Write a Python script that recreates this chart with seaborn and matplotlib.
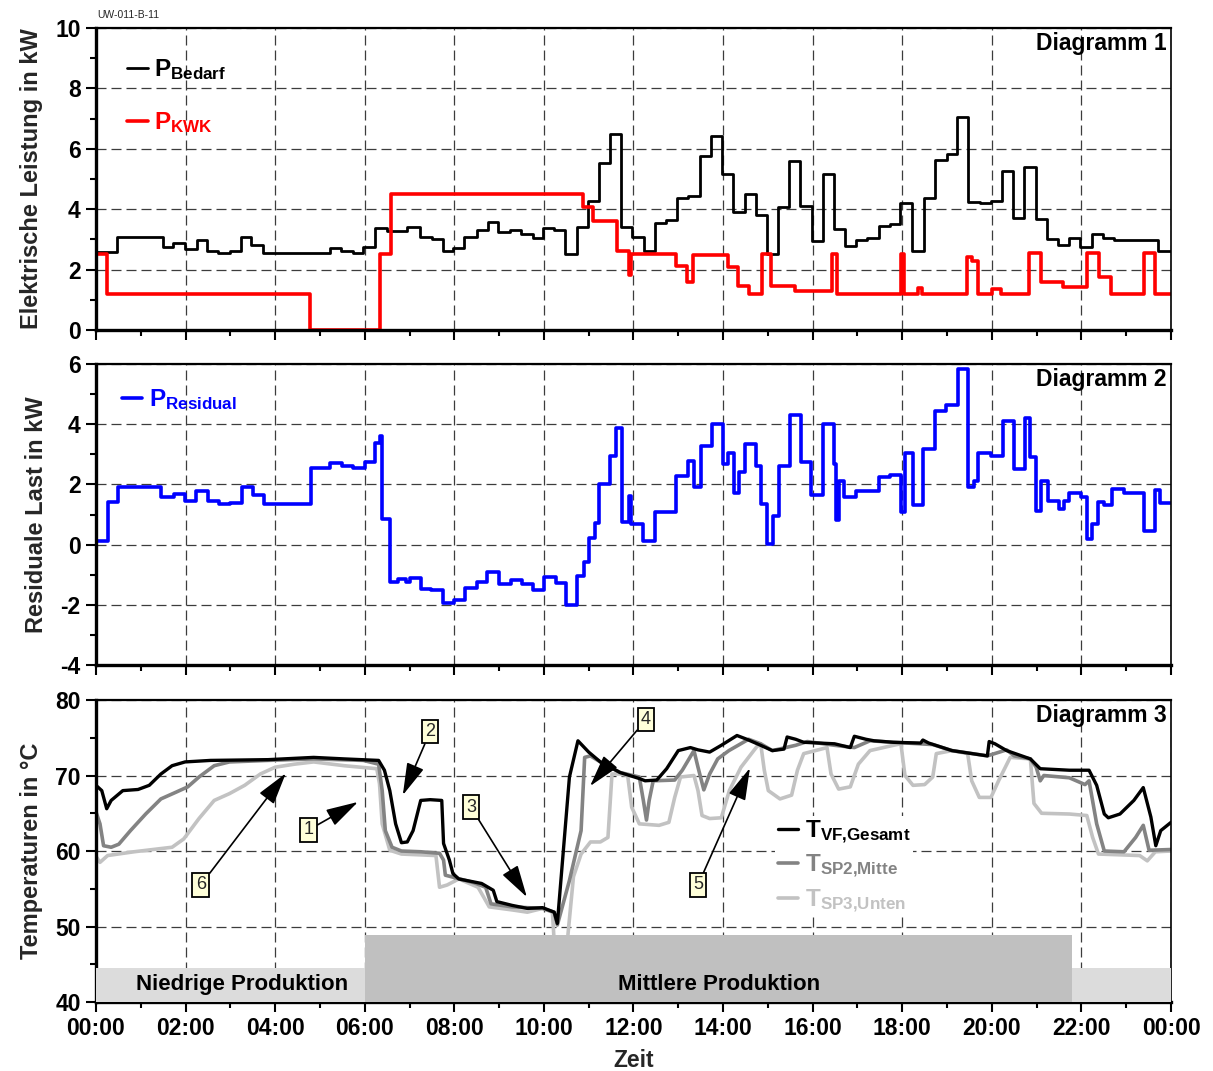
import numpy as np
import pandas as pd
import matplotlib
matplotlib.use("Agg")
import matplotlib.pyplot as plt
import seaborn as sns
from matplotlib.ticker import MultipleLocator

# ---------------- data ----------------
bedarf_t = [0, 0.47, 1.49, 1.72, 1.99, 2.25, 2.48, 2.73, 2.99, 3.23, 3.47, 3.74, 5.22, 5.48, 5.74, 5.97,
            6.23, 6.49, 6.94, 7.23, 7.5, 7.74, 7.97, 8.21, 8.5, 8.76, 8.98, 9.24, 9.48, 9.75, 9.98, 10.22,
            10.47, 10.73, 10.98, 11.23, 11.47, 11.72, 11.97, 12.23, 12.48, 12.72, 12.97, 13.21, 13.48, 13.73,
            13.97, 14.22, 14.49, 14.73, 14.98, 15.22, 15.47, 15.71, 15.98, 16.22, 16.47, 16.72, 16.96, 17.21,
            17.48, 17.72, 17.96, 18.21, 18.48, 18.73, 18.99, 19.22, 19.46, 19.73, 19.97, 20.22, 20.47, 20.71,
            20.98, 21.23, 21.47, 21.72, 21.96, 22.23, 22.48, 22.72, 23.71, 24]
bedarf_kw = [2.58, 3.08, 2.75, 2.88, 2.68, 2.98, 2.62, 2.55, 2.62, 3.07, 2.82, 2.55, 2.7, 2.62, 2.55, 2.75,
             3.37, 3.28, 3.4, 3.07, 3.0, 2.62, 2.7, 3.07, 3.31, 3.56, 3.23, 3.31, 3.19, 3.04, 3.39, 3.31,
             2.52, 3.42, 4.28, 5.54, 6.5, 3.42, 3.07, 2.63, 3.53, 3.64, 4.36, 4.42, 5.76, 6.42,
             5.16, 3.9, 4.5, 3.8, 2.52, 4.08, 5.6, 4.1, 2.96, 5.17, 3.33, 2.78, 2.99, 3.05,
             3.44, 3.52, 4.22, 2.6, 4.36, 5.63, 5.83, 7.04, 4.25, 4.2, 4.28, 5.28, 3.7, 5.41,
             3.66, 3.0, 2.8, 3.06, 2.74, 3.19, 3.06, 2.98, 2.6, 2.6]

kwk_t = [0, 0.01, 0.25, 4.78, 6.35, 6.58, 10.88, 11.1, 11.63, 11.9, 11.95, 12.95, 13.2, 13.32, 14.11,
         14.34, 14.58, 14.86, 15.08, 15.6, 16.43, 16.55, 17.97, 18.04, 18.35, 18.45, 19.44, 19.55, 19.69,
         20.0, 20.2, 20.83, 21.09, 21.58, 22.12, 22.39, 22.65, 23.39, 23.64, 24]
kwk_kw = [1.16, 2.52, 1.2, 0.0, 2.52, 4.5, 4.08, 3.62, 2.63, 1.82, 2.52, 2.12, 1.6, 2.49, 2.1,
          1.46, 1.19, 2.52, 1.45, 1.3, 2.52, 1.2, 2.52, 1.2, 1.4, 1.2, 2.43, 2.27, 1.2,
          1.37, 1.2, 2.55, 1.6, 1.42, 2.55, 1.77, 1.2, 2.55, 1.2, 1.2]

res_t = [0, 0.01, 0.27, 0.5, 1.45, 1.75, 1.98, 2.24, 2.5, 2.75, 2.99, 3.25, 3.5, 3.76, 4.79, 5.23, 5.5,
         5.74, 6.0, 6.24, 6.35, 6.38, 6.56, 6.75, 6.92, 7.01, 7.25, 7.48, 7.74, 7.99, 8.23, 8.5, 8.74, 9.0,
         9.27, 9.5, 9.76, 10.0, 10.26, 10.5, 10.75, 10.9, 11.0, 11.15, 11.24, 11.48, 11.62, 11.74, 11.89,
         11.94, 12.22, 12.48, 12.96, 13.22, 13.35, 13.5, 13.75, 14.0, 14.12, 14.24, 14.36, 14.49, 14.73,
         14.85, 14.99, 15.12, 15.25, 15.49, 15.73, 15.97, 16.23, 16.48, 16.52, 16.58, 16.71, 16.97, 17.47,
         17.73, 17.98, 18.06, 18.24, 18.46, 18.74, 18.98, 19.24, 19.46, 19.61, 19.7, 19.98, 20.24, 20.49,
         20.75, 20.86, 20.99, 21.1, 21.25, 21.51, 21.6, 21.73, 21.99, 22.12, 22.24, 22.38, 22.51, 22.68,
         22.95, 23.39, 23.65, 23.75, 24]
res_kw = [1.4, 0.13, 1.4, 1.92, 1.57, 1.68, 1.44, 1.77, 1.46, 1.35, 1.39, 1.9, 1.66, 1.35, 2.56, 2.7, 2.62,
          2.53, 2.76, 3.39, 3.61, 0.85, -1.25, -1.14, -1.25, -1.1, -1.47, -1.5, -1.94, -1.83, -1.44, -1.25,
          -0.92, -1.3, -1.17, -1.3, -1.5, -1.08, -1.28, -2.02, -1.04, -0.59, 0.22, 0.71, 2.0, 2.95, 3.89,
          0.74, 1.62, 0.68, 0.13, 1.07, 2.29, 2.78, 1.92, 3.28, 4.0, 2.67, 3.06, 1.73, 2.4, 3.34, 2.62,
          1.35, 0.02, 0.96, 2.62, 4.31, 2.73, 1.66, 4.0, 2.67, 0.82, 2.12, 1.57, 1.79, 2.23,
          2.32, 1.07, 3.06, 1.33, 3.17, 4.44, 4.64, 5.82, 1.92, 2.12, 3.06, 2.95, 4.11, 2.51,
          4.2, 2.9, 1.13, 2.12, 1.44, 1.18, 1.44, 1.7, 1.57, 0.19, 0.69, 1.4, 1.33, 1.85,
          1.7, 0.44, 1.81, 1.37, 1.37]

tvf_t = [0, 0.13, 0.24, 0.34, 0.6, 0.94, 1.19, 1.45, 1.7, 1.99, 2.56, 3.84, 4.86, 5.54, 6.31, 6.44, 6.56,
         6.69, 6.82, 6.95, 7.08, 7.25, 7.46, 7.72, 7.76, 7.89, 7.97, 8.1, 8.61, 8.87, 8.95, 9.29, 9.63,
         9.97, 10.23, 10.3, 10.57, 10.76, 11.0, 11.26, 11.7, 12.13, 12.26, 12.52, 12.74, 13.0, 13.27,
         13.44, 13.7, 13.96, 14.31, 14.53, 14.84, 15.1, 15.36, 15.43, 15.62, 15.8, 16.49, 16.84, 16.93,
         17.19, 17.37, 17.8, 18.41, 18.46, 18.59, 19.11, 19.9, 19.94, 20.07, 20.33, 20.86, 21.08, 21.73,
         22.17, 22.34, 22.51, 22.6, 22.86, 23.17, 23.38, 23.55, 23.66, 23.77, 24]
tvf_c = [68.7, 68.0, 65.6, 66.7, 68.0, 68.15, 68.7, 70.2, 71.3, 71.8, 72.0, 72.1, 72.4, 72.2, 72.0, 70.7,
         68.0, 63.6, 61.1, 61.2, 62.7, 66.7, 66.8, 66.7, 61.0, 58.8, 57.0, 56.3, 55.7, 54.8, 53.3, 52.8,
         52.4, 52.5, 51.9, 50.4, 69.8, 74.6, 73.1, 71.8, 70.4, 69.6, 69.3, 69.4, 70.9, 73.3, 73.7,
         73.4, 73.1, 74.0, 75.3, 74.8, 74.0, 73.3, 73.5, 75.1, 74.8, 74.4, 74.2, 73.7, 75.2,
         74.8, 74.6, 74.4, 74.3, 74.7, 74.3, 73.3, 72.6, 74.5, 74.2, 73.3, 72.2, 70.9, 70.7,
         70.7, 68.7, 64.9, 64.4, 64.9, 66.7, 68.4, 64.5, 60.7, 62.7, 63.8]

tsp2_t = [0, 0.09, 0.17, 0.34, 0.51, 0.77, 1.11, 1.45, 1.79, 2.05, 2.3, 2.64, 2.98, 3.84, 4.86, 5.97,
          6.31, 6.39, 6.46, 6.61, 6.82, 7.25, 7.67, 7.76, 7.8, 7.93, 8.44, 8.7, 8.82, 9.29, 9.97, 10.23,
          10.3, 10.57, 10.83, 10.91, 11.04, 11.26, 11.7, 12.13, 12.22, 12.29, 12.35, 12.44, 12.92, 13.09,
          13.35, 13.44, 13.57, 13.7, 13.88, 14.13, 14.57, 14.84, 15.1, 15.62, 15.88, 16.49, 16.93, 17.28,
          17.8, 18.68, 19.11, 19.9, 20.33, 20.5, 20.86, 20.99, 21.08, 21.16, 21.73, 22.08, 22.17, 22.34,
          22.51, 22.95, 23.21, 23.38, 23.51, 24]
tsp2_c = [65.2, 63.6, 60.7, 60.5, 60.9, 62.7, 64.9, 66.9, 67.8, 68.5, 69.8, 71.3, 71.8, 72.0, 72.2, 72.0,
          71.5, 68.0, 62.7, 60.5, 60.0, 59.9, 59.7, 58.8, 56.8, 56.6, 55.8, 55.2, 53.0, 52.6, 52.4, 51.9,
          50.2, 56.1, 62.7, 72.4, 72.6, 71.8, 70.4, 69.8, 66.7, 64.1, 66.7, 69.3, 69.4, 70.7,
          73.3, 71.1, 68.1, 70.2, 72.2, 73.3, 74.8, 74.2, 73.3, 74.0, 74.5, 74.0, 73.7, 74.6,
          74.4, 74.1, 73.3, 72.6, 73.4, 72.6, 72.2, 71.1, 69.3, 70.0, 69.7, 68.8, 69.3, 63.6,
          60.0, 59.9, 61.8, 63.4, 60.1, 60.2]

tsp3_t = [0, 0.09, 0.26, 0.85, 1.7, 1.96, 2.3, 2.64, 2.98, 3.32, 3.67, 4.0, 4.43, 4.86, 5.54, 6.27, 6.33,
          6.39, 6.56, 6.82, 7.59, 7.67, 7.84, 8.1, 8.53, 8.78, 9.29, 9.63, 9.97, 10.19, 10.25, 10.49, 10.66,
          10.83, 11.04, 11.26, 11.43, 11.52, 11.7, 11.87, 11.96, 12.13, 12.57, 12.79, 12.92, 13.05, 13.35,
          13.44, 13.53, 13.7, 13.96, 14.14, 14.4, 14.75, 14.84, 14.92, 15.01, 15.27, 15.53, 15.66, 15.8,
          16.06, 16.32, 16.41, 16.58, 16.84, 17.02, 17.28, 17.8, 17.97, 18.06, 18.24, 18.5, 18.68, 18.76,
          19.11, 19.46, 19.55, 19.72, 19.98, 20.15, 20.41, 20.86, 20.94, 21.11, 21.73, 22.12, 22.25, 22.38,
          23.3, 23.47, 23.65, 24]
tsp3_c = [59.3, 58.5, 59.4, 59.9, 60.5, 61.6, 64.3, 66.7, 67.6, 68.7, 70.2, 71.1, 71.5, 71.8, 71.3, 70.9,
          68.9, 63.6, 60.1, 59.6, 59.4, 55.2, 55.5, 56.3, 55.2, 52.6, 52.2, 51.9, 52.4, 51.9, 46.0, 46.0,
          56.6, 59.6, 61.2, 61.2, 61.8, 70.2, 70.2, 70.0, 65.8, 63.6, 63.4, 63.8, 67.1, 69.8, 70.0,
          68.0, 64.7, 64.3, 64.4, 68.0, 71.1, 73.8, 74.2, 70.7, 68.0, 66.9, 67.4, 70.7, 72.9,
          73.3, 73.7, 70.2, 68.2, 68.5, 71.5, 73.3, 74.0, 74.2, 70.0, 68.7, 68.8, 69.8, 72.9,
          73.3, 72.9, 69.3, 67.1, 67.1, 69.3, 72.4, 72.2, 66.3, 65.0, 64.9, 64.7, 61.8, 59.6,
          59.4, 58.7, 59.9, 60.0]

phase_names = ["Niedrige Produktion", "Mittlere Produktion", ""]
phase_start = [0, 6, 21.8]
phase_end = [6, 21.8, 24]
phase_top = [44.5, 48.9, 44.5]

ann_labels = ["1", "2", "3", "4", "5", "6"]

x_tick_labels = ["00:00", "02:00", "04:00", "06:00", "08:00", "10:00", "12:00",
                 "14:00", "16:00", "18:00", "20:00", "22:00", "00:00"]

# ---------------- style ----------------
sns.set_theme(style="white")
plt.rcParams["font.family"] = ["Liberation Sans", "DejaVu Sans"]
plt.rcParams["font.weight"] = "bold"
plt.rcParams["axes.labelweight"] = "bold"
plt.rcParams["axes.unicode_minus"] = False
plt.rcParams["mathtext.fontset"] = "custom"
plt.rcParams["mathtext.bf"] = "Liberation Sans:bold"
plt.rcParams["mathtext.rm"] = "Liberation Sans"
plt.rcParams["mathtext.it"] = "Liberation Sans:italic"

C_SP2 = "#838383"
C_SP3 = "#c2c2c2"

fig = plt.figure(figsize=(12.13, 10.71), dpi=100)
ax1 = fig.add_axes([0.0791, 0.6919, 0.8863, 0.2820])
ax2 = fig.add_axes([0.0791, 0.3791, 0.8863, 0.2810])
ax3 = fig.add_axes([0.0791, 0.0644, 0.8863, 0.2820])


def style_axis(ax, ylim, ymaj, ymin, ylabel, title, show_x):
    ax.set_xlim(0, 24)
    ax.set_ylim(*ylim)
    ax.xaxis.set_major_locator(MultipleLocator(2))
    ax.xaxis.set_minor_locator(MultipleLocator(1))
    ax.yaxis.set_major_locator(MultipleLocator(ymaj))
    ax.yaxis.set_minor_locator(MultipleLocator(ymin))
    ax.set_axisbelow(True)
    ax.grid(True, which="major", color="#3c3c3c", linestyle=(0, (8, 4)), linewidth=0.9)
    ax.tick_params(axis="both", which="major", direction="out", length=7, width=1.5,
                   labelsize=16.5, colors="black", pad=4)
    ax.tick_params(axis="both", which="minor", direction="out", length=4, width=1.5, colors="black")
    ax.tick_params(axis="x", which="both", bottom=True, top=False)
    ax.tick_params(axis="y", which="both", left=True, right=False)
    for lab in ax.get_yticklabels():
        lab.set_fontweight("bold")
    if show_x:
        ax.set_xticks(np.arange(0, 25, 2))
        ax.set_xticklabels(x_tick_labels, fontsize=16.5, fontweight="bold")
        ax.set_xlabel("Zeit", fontsize=16.5, fontweight="bold", labelpad=6)
    else:
        ax.tick_params(axis="x", labelbottom=False)
        ax.set_xlabel("")
    ax.set_ylabel(ylabel, fontsize=17, fontweight="bold", labelpad=9)
    for side, lw in [("left", 2.4), ("bottom", 2.4), ("top", 1.6), ("right", 1.2)]:
        ax.spines[side].set_visible(True)
        ax.spines[side].set_color("black")
        ax.spines[side].set_linewidth(lw)
    ax.text(0.996, 0.95, title, transform=ax.transAxes, ha="right", va="center",
            fontsize=16.5, fontweight="bold", color="black")


# ---------------- Diagramm 1 ----------------
df_bedarf = pd.DataFrame({"t": bedarf_t, "p": bedarf_kw})
df_kwk = pd.DataFrame({"t": kwk_t, "p": kwk_kw})
sns.lineplot(data=df_bedarf, x="t", y="p", ax=ax1, color="black", lw=2.0, drawstyle="steps-post",
             estimator=None, sort=False, label=r"$\mathbf{P_{Bedarf}}$")
sns.lineplot(data=df_kwk, x="t", y="p", ax=ax1, color="#ff0000", lw=2.6, drawstyle="steps-post",
             estimator=None, sort=False, label=r"$\mathbf{P_{KWK}}$")
style_axis(ax1, (0, 10), 2, 1, "Elektrische Leistung in kW", "Diagramm 1", False)
ax1.legend(loc="upper left", bbox_to_anchor=(0.02, 0.935), frameon=False, fontsize=17.5,
           handlelength=0.85, handletextpad=0.25, labelspacing=1.15, labelcolor=["black", "#ff0000"],
           borderaxespad=0)
fig.text(0.080, 0.986, "UW-011-B-11", fontsize=7.5, fontweight="normal", ha="left", va="center")

# ---------------- Diagramm 2 ----------------
df_res = pd.DataFrame({"t": res_t, "p": res_kw})
sns.lineplot(data=df_res, x="t", y="p", ax=ax2, color="#0000ff", lw=2.6, drawstyle="steps-post",
             estimator=None, sort=False, label=r"$\mathbf{P_{Residual}}$")
style_axis(ax2, (-4, 6), 2, 1, "Residuale Last in kW", "Diagramm 2", False)
ax2.legend(loc="upper left", bbox_to_anchor=(0.015, 0.955), frameon=False, fontsize=17.5,
           handlelength=0.85, handletextpad=0.25, labelcolor=["#0000ff"], borderaxespad=0)

# ---------------- Diagramm 3 ----------------
df_tvf = pd.DataFrame({"t": tvf_t, "T": tvf_c})
df_sp2 = pd.DataFrame({"t": tsp2_t, "T": tsp2_c})
df_sp3 = pd.DataFrame({"t": tsp3_t, "T": tsp3_c})
sns.lineplot(data=df_sp3, x="t", y="T", ax=ax3, color=C_SP3, lw=2.6, estimator=None, sort=False,
             label=r"$\mathbf{T_{SP3{,}Unten}}$", zorder=2)
sns.lineplot(data=df_sp2, x="t", y="T", ax=ax3, color=C_SP2, lw=2.6, estimator=None, sort=False,
             label=r"$\mathbf{T_{SP2{,}Mitte}}$", zorder=2.1)
sns.lineplot(data=df_tvf, x="t", y="T", ax=ax3, color="black", lw=2.4, estimator=None, sort=False,
             label=r"$\mathbf{T_{VF{,}Gesamt}}$", zorder=2.2)
style_axis(ax3, (40, 80), 10, 5, "Temperaturen in °C", "Diagramm 3", True)

phase_colors = ["#dcdcdc", "#c0c0c0", "#dcdcdc"]
for s, e, top, c, name in zip(phase_start, phase_end, phase_top, phase_colors, phase_names):
    ax3.bar(s, top - 40, width=e - s, bottom=40, align="edge", color=c, linewidth=0, zorder=3)
    if name:
        ax3.text((s + e) / 2 if s > 0 else 3.27, 42.3, name, ha="center", va="center",
                 fontsize=16, fontweight="bold", color="black", zorder=4)

# annotation layout (box centre, arrow tip)
ann_box = [(4.75, 62.8), (7.46, 75.8), (8.37, 65.8), (12.28, 77.4), (13.44, 55.5), (2.34, 55.5)]
ann_tip = [(5.85, 66.5), (6.85, 67.4), (9.62, 53.9), (11.03, 68.6), (14.6, 71.0), (4.24, 70.3)]
for lab, (bx, by), (tx, ty) in zip(ann_labels, ann_box, ann_tip):
    ax3.annotate(lab, xy=(tx, ty), xytext=(bx, by), fontsize=13, fontweight="normal",
                 ha="center", va="center", zorder=6,
                 bbox=dict(boxstyle="square,pad=0.18", fc="#ffffd9", ec="black", lw=1.3),
                 arrowprops=dict(arrowstyle="-|>,head_length=1.0,head_width=0.28", color="black",
                                 lw=1.2, shrinkA=0, shrinkB=0, mutation_scale=20))

h, l = ax3.get_legend_handles_labels()
order = [2, 1, 0]
leg = ax3.legend([h[i] for i in order], [l[i] for i in order], loc="upper left",
                 bbox_to_anchor=(0.632, 0.615), frameon=True, fontsize=17.5, handlelength=0.85,
                 handletextpad=0.25, labelspacing=0.3, labelcolor=["black", C_SP2, C_SP3],
                 borderaxespad=0, borderpad=0.1, facecolor="white", edgecolor="none",
                 framealpha=1.0, fancybox=False)

fig.savefig("out.png", dpi=100)
